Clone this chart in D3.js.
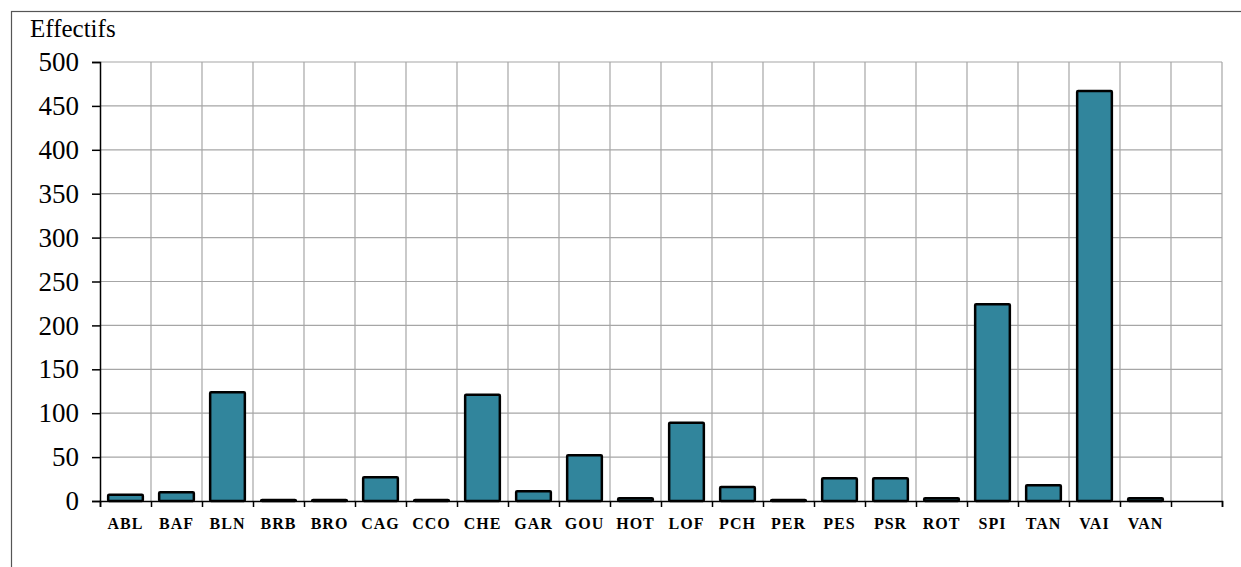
<!DOCTYPE html>
<html><head><meta charset="utf-8">
<script src="https://cdn.jsdelivr.net/npm/d3@7"></script>
<style>body{margin:0;background:#fff}svg{display:block}svg text{font-family:"Liberation Serif","Times New Roman",Times,serif}</style>
</head><body>
<svg id="c" width="1241" height="567"></svg>
<script>
const categories = ["ABL","BAF","BLN","BRB","BRO","CAG","CCO","CHE","GAR","GOU","HOT","LOF","PCH","PER","PES","PSR","ROT","SPI","TAN","VAI","VAN"];
const values = [7,10,124,1,1,27,1,121,11,52,3,89,16,1,26,26,3,224,18,467,3];
const yTicks = [0,50,100,150,200,250,300,350,400,450,500];
const yTitle = "Effectifs";
const slots = categories.concat([""]);

const svg = d3.select("#c");
const L = 100, R = 1222, T = 62, B = 501;
const FONT = '"Liberation Serif","Times New Roman",Times,serif';
svg.append("rect").attr("x",11.5).attr("y",11.5).attr("width",1300).attr("height",700)
  .attr("fill","none").attr("stroke","#555").attr("stroke-width",1.2);

const x = d3.scaleBand().domain(d3.range(slots.length)).range([L,R]).paddingInner(0.32).paddingOuter(0.16);
const xs = d3.scaleLinear().domain([0,slots.length]).range([L,R]);
const y = d3.scaleLinear().domain([0,500]).range([B,T]);

// grid
svg.append("g").selectAll("line").data(yTicks.filter(d=>d>0)).join("line")
  .attr("x1",L).attr("x2",R).attr("y1",d=>y(d)).attr("y2",d=>y(d))
  .attr("stroke","#a6a6a6").attr("stroke-width",1.2);
svg.append("g").selectAll("line").data(d3.range(1,slots.length+1)).join("line")
  .attr("x1",d=>xs(d)).attr("x2",d=>xs(d)).attr("y1",T).attr("y2",B)
  .attr("stroke","#a6a6a6").attr("stroke-width",1.2);

// bars
svg.append("g").selectAll("rect").data(values).join("rect")
  .attr("x",(d,i)=>x(i)).attr("width",x.bandwidth())
  .attr("y",d=>y(d)).attr("height",d=>B-y(d))
  .attr("fill","#31859c").attr("stroke","#000").attr("stroke-width",2.5)
  .attr("rx",1);

// y axis
const ya = svg.append("g").attr("transform",`translate(${L},0)`)
  .call(d3.axisLeft(y).tickValues(yTicks).tickSize(8).tickPadding(13));
ya.select(".domain").attr("stroke","#000").attr("stroke-width",1.5);
ya.selectAll(".tick line").attr("stroke","#000").attr("stroke-width",1.5);
ya.selectAll("text").attr("font-family",FONT).attr("font-size",27).attr("fill","#000");

// x axis
const xa = svg.append("g").attr("transform",`translate(0,${B})`)
  .call(d3.axisBottom(xs).tickValues(d3.range(0,slots.length+1)).tickSize(6).tickFormat(""));
xa.select(".domain").attr("stroke","#000").attr("stroke-width",1.5);
xa.selectAll(".tick line").attr("stroke","#000").attr("stroke-width",1.5);
svg.append("g").selectAll("text").data(categories).join("text")
  .attr("x",(d,i)=>x(i)+x.bandwidth()/2).attr("y",529)
  .attr("text-anchor","middle").attr("font-family",FONT)
  .attr("font-weight","bold").attr("font-size",16).attr("letter-spacing",1)
  .attr("fill","#000").text(d=>d);

svg.append("text").attr("x",30).attr("y",37).attr("font-family",FONT)
  .attr("font-size",25).attr("fill","#000").text(yTitle);
</script>
</body></html>
